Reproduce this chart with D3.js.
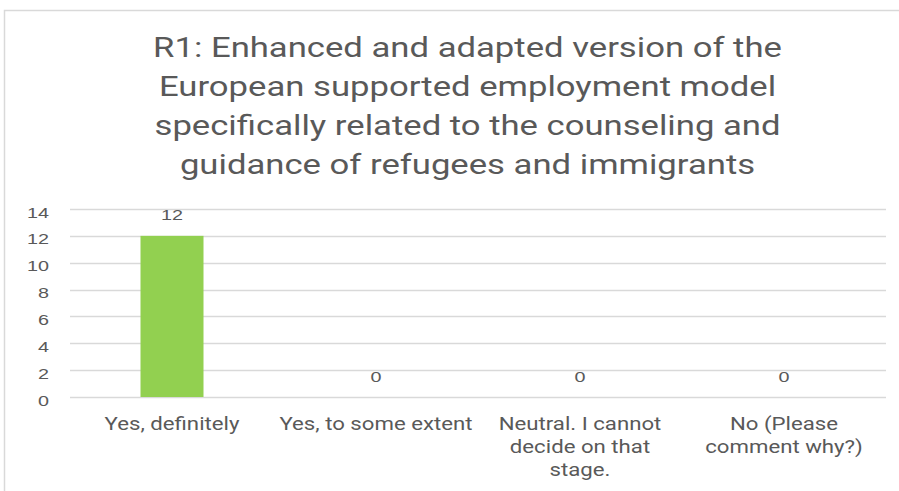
<!DOCTYPE html>
<html><head><meta charset="utf-8">
<script src="https://cdn.jsdelivr.net/npm/d3@7/dist/d3.min.js"></script>
<style>body{margin:0;background:#fff;} svg{display:block;}</style>
</head><body>
<svg id="chart" width="899" height="491"></svg>
<script>
const titleLines = ["R1: Enhanced and adapted version of the","European supported employment model","specifically related to the counseling and","guidance of refugees and immigrants"];
const categories = ["Yes, definitely","Yes, to some extent","Neutral. I cannot decide on that stage.","No (Please comment why?)"];
const categoryLines = [["Yes, definitely"],["Yes, to some extent"],["Neutral. I cannot","decide on that","stage."],["No (Please","comment why?)"]];
const values = [12,0,0,0];
const yTicks = [0,2,4,6,8,10,12,14];

const svg = d3.select("#chart");
const textColor = "#595959";
const FONT = "Roboto, 'Liberation Sans', sans-serif";
const NUMFONT = "'Liberation Sans', Arial, sans-serif";

// measure helper: horizontal stretch so that `str` at `size` is `target` px wide
function stretchFor(str, size, family, target){
  const t = svg.append("text").attr("font-family",family).attr("font-size",size).text(str);
  const w = t.node().getComputedTextLength();
  t.remove();
  return target / w;
}

// chart border
svg.append("path").attr("d","M4.5,491 L4.5,10.5 L899,10.5").attr("fill","none").attr("stroke","#d9d9d9").attr("stroke-width",1.5);

const titleSize = 28;
const sTitle = stretchFor(titleLines[0], titleSize, FONT, 629);
const tg = svg.append("g").attr("font-family",FONT).attr("font-size",titleSize).attr("fill",textColor).attr("text-anchor","middle");
titleLines.forEach((t,i)=>tg.append("text").attr("transform",`translate(467.5,${57+i*39}) scale(${sTitle},1)`).text(t));

const x = d3.scaleBand().domain(categories).range([70,886]).paddingInner(0).paddingOuter(0);
const y = d3.scaleLinear().domain([0,14]).range([397,209]);

const grid = svg.append("g");
grid.selectAll("line").data(yTicks).join("line")
  .attr("x1",70).attr("x2",886).attr("y1",d=>Math.round(y(d))+0.5).attr("y2",d=>Math.round(y(d))+0.5)
  .attr("stroke","#d9d9d9").attr("stroke-width",1.3);

const numSize = 15.5;
const sNum = stretchFor("14", numSize, NUMFONT, 22);
const yAxis = svg.append("g").attr("transform","translate(49,0)")
  .call(d3.axisLeft(y).tickValues(yTicks).tickSize(0).tickPadding(0));
yAxis.select(".domain").remove();
yAxis.selectAll(".tick text")
  .attr("x",null).attr("dy",null).attr("y",8)
  .attr("font-family",NUMFONT).attr("font-size",numSize).attr("fill",textColor)
  .attr("transform",`scale(${sNum},1)`);

const bw = 63;
svg.selectAll("rect.bar").data(values).join("rect").attr("class","bar")
  .attr("x",(d,i)=>x(categories[i])+x.bandwidth()/2-bw/2).attr("width",bw)
  .attr("y",d=>y(d)).attr("height",d=>y(0)-y(d)).attr("fill","#92d050");

svg.selectAll("text.val").data(values).join("text").attr("class","val")
  .attr("transform",(d,i)=>`translate(${x(categories[i])+x.bandwidth()/2},${y(d)-15.5}) scale(${sNum},1)`)
  .attr("text-anchor","middle").attr("font-family",NUMFONT).attr("font-size",numSize).attr("fill",textColor).text(d=>d);

const catSize = 18;
const sCat = stretchFor("Yes, definitely", catSize, FONT, 135);
const cg = svg.append("g").attr("font-family",FONT).attr("font-size",catSize).attr("fill",textColor).attr("text-anchor","middle");
categoryLines.forEach((lines,i)=>{
  lines.forEach((l,j)=>cg.append("text")
    .attr("transform",`translate(${x(categories[i])+x.bandwidth()/2},${430+j*23}) scale(${sCat},1)`).text(l));
});
</script>
</body></html>
